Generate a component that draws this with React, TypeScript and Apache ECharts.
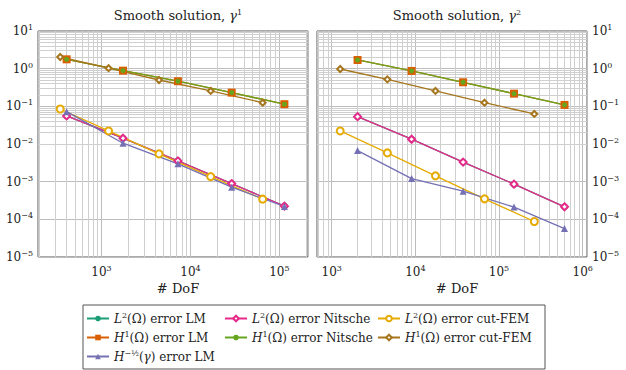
import React, { useEffect, useRef } from "react";
import * as echarts from "echarts";

// ---- Data ----
// gamma^1 panel
const g1DofLM = [405, 1745, 7230, 29100, 114000];
const g1DofCut = [343, 1200, 4430, 16900, 64900];
const g1L2LM = [0.0556, 0.01426, 0.00356, 0.00089, 0.000224];
const g1L2Nitsche = [0.0556, 0.01426, 0.00356, 0.00089, 0.000224];
const g1L2Cut = [0.085, 0.0222, 0.00546, 0.00136, 0.000343];
const g1H1LM = [1.77, 0.885, 0.464, 0.231, 0.114];
const g1H1Nitsche = [1.77, 0.885, 0.464, 0.231, 0.114];
const g1H1Cut = [2.04, 1.03, 0.5, 0.256, 0.125];
const g1HmLM = [0.0723, 0.0105, 0.00297, 0.000715, 0.000219];

// gamma^2 panel
const g2DofLM = [2040, 9020, 37200, 151000, 606000];
const g2DofCut = [1265, 4630, 17400, 67000, 264000];
const g2L2LM = [0.0533, 0.0134, 0.00331, 0.00086, 0.000215];
const g2L2Nitsche = [0.0533, 0.0134, 0.00331, 0.00086, 0.000215];
const g2L2Cut = [0.0222, 0.0058, 0.00143, 0.00035, 0.0000875];
const g2H1LM = [1.7, 0.87, 0.435, 0.217, 0.109];
const g2H1Nitsche = [1.7, 0.87, 0.435, 0.217, 0.109];
const g2H1Cut = [0.98, 0.52, 0.256, 0.125, 0.0628];
const g2HmLM = [0.00668, 0.00121, 0.00056, 0.000211, 0.000057];

const seriesNames = [
  "L2 error LM",
  "L2 error Nitsche",
  "L2 error cut-FEM",
  "H1 error LM",
  "H1 error Nitsche",
  "H1 error cut-FEM",
  "H-1/2 error LM",
];

const richLabels: Record<string, string> = {
  "L2 error LM": "{i|L}{sup|2}{t|(Ω) error LM}",
  "L2 error Nitsche": "{i|L}{sup|2}{t|(Ω) error Nitsche}",
  "L2 error cut-FEM": "{i|L}{sup|2}{t|(Ω) error cut-FEM}",
  "H1 error LM": "{i|H}{sup|1}{t|(Ω) error LM}",
  "H1 error Nitsche": "{i|H}{sup|1}{t|(Ω) error Nitsche}",
  "H1 error cut-FEM": "{i|H}{sup|1}{t|(Ω) error cut-FEM}",
  "H-1/2 error LM": "{i|H}{sup|−½}{t|(}{i|γ}{t|) error LM}",
};

const FONT = "DejaVu Serif";
const INK = "#222";

const mkRich = (fs: number) => ({
  t: { fontFamily: FONT, fontSize: fs, color: INK },
  i: { fontStyle: "italic", fontFamily: FONT, fontSize: fs, color: INK },
  sup: { fontSize: 8, fontFamily: FONT, color: INK, verticalAlign: "top", lineHeight: 15 },
});

function pow10Label(v: number) {
  const e = Math.round(Math.log10(v));
  const s = e < 0 ? "−" + Math.abs(e) : String(e);
  return "{b|10}{sup|" + s + "}";
}

function minorValues(eFrom: number, eTo: number, lo: number, hi: number) {
  const out: number[] = [];
  for (let e = eFrom; e <= eTo; e++) {
    for (let k = 2; k <= 9; k++) {
      const v = k * Math.pow(10, e);
      if (v > lo && v < hi) out.push(v);
    }
  }
  return out;
}

export default function App() {
  const ref = useRef<HTMLDivElement>(null);
  useEffect(() => {
    if (!ref.current) return;
    const chart = echarts.init(ref.current, undefined, { renderer: "svg" });

    const colors = ["#1b9e77", "#e7298a", "#e6ab02", "#d95f02", "#66a61e", "#a6761d", "#7570b3"];
    const symbols = ["circle", "emptyDiamond", "emptyCircle", "rect", "circle", "emptyDiamond", "triangle"];
    const sizes = [7, 7, 7, 8, 5, 6, 7];

    const panels = [
      {
        xs: [g1DofLM, g1DofLM, g1DofCut, g1DofLM, g1DofLM, g1DofCut, g1DofLM],
        ys: [g1L2LM, g1L2Nitsche, g1L2Cut, g1H1LM, g1H1Nitsche, g1H1Cut, g1HmLM],
        xmin: 193,
        xmax: 210000,
      },
      {
        xs: [g2DofLM, g2DofLM, g2DofCut, g2DofLM, g2DofLM, g2DofCut, g2DofLM],
        ys: [g2L2LM, g2L2Nitsche, g2L2Cut, g2H1LM, g2H1Nitsche, g2H1Cut, g2HmLM],
        xmin: 668,
        xmax: 1125000,
      },
    ];

    const series: any[] = [];
    panels.forEach((p, pi) => {
      const xm = minorValues(2, 6, p.xmin, p.xmax);
      const ym = minorValues(-5, 0, 1e-5, 10);
      series.push({
        type: "line",
        name: "grid" + pi,
        xAxisIndex: pi,
        yAxisIndex: pi,
        data: [],
        silent: true,
        z: 0,
        markLine: {
          z: 0,
          silent: true,
          symbol: ["none", "none"],
          label: { show: false },
          lineStyle: { color: "#cfcfcf", width: 1, type: "solid" },
          emphasis: { disabled: true },
          animation: false,
          data: [...xm.map((v) => ({ xAxis: v })), ...ym.map((v) => ({ yAxis: v }))],
        },
      });
      seriesNames.forEach((name, si) => {
        series.push({
          type: "line",
          name,
          xAxisIndex: pi,
          yAxisIndex: pi,
          data: p.xs[si].map((x, i) => [x, p.ys[si][i]]),
          symbol: symbols[si],
          symbolSize: sizes[si],
          showSymbol: true,
          z: 3,
          lineStyle: { color: colors[si], width: 1.3 },
          itemStyle: {
            color: colors[si],
            borderColor: colors[si],
            borderWidth: symbols[si].startsWith("empty") ? 1.4 : 0,
          },
          emphasis: { disabled: true },
        });
      });
    });

    const labelRich = {
      b: { fontSize: 12, fontFamily: FONT, color: INK },
      sup: { fontSize: 8, fontFamily: FONT, color: INK, verticalAlign: "top", lineHeight: 15 },
    };

    const xAxisCommon = (gi: number, min: number, max: number) => ({
      type: "log",
      logBase: 10,
      gridIndex: gi,
      min,
      max,
      axisLine: { show: false },
      axisTick: { show: false },
      axisLabel: {
        showMinLabel: false,
        showMaxLabel: false,
        margin: 7,
        fontFamily: FONT,
        fontSize: 12,
        color: INK,
        formatter: (v: number) => pow10Label(v),
        rich: labelRich,
      },
      splitLine: { show: true, lineStyle: { color: "#bdbdbd", width: 1 } },
    });

    const yAxisCommon = (gi: number, pos: string) => ({
      type: "log",
      logBase: 10,
      gridIndex: gi,
      min: 1e-5,
      max: 10,
      splitNumber: 6,
      position: pos,
      axisLine: { show: false },
      axisTick: { show: false },
      axisLabel: {
        margin: 5,
        fontFamily: FONT,
        fontSize: 12,
        color: INK,
        formatter: (v: number) => pow10Label(v),
        rich: labelRich,
      },
      splitLine: { show: true, lineStyle: { color: "#bdbdbd", width: 1 } },
    });

    const legendCommon = {
      orient: "horizontal",
      itemWidth: 22,
      itemHeight: 7,
      itemGap: 4,
      padding: 0,
      selectedMode: false,
      formatter: (name: string) => richLabels[name] || name,
      textStyle: { fontFamily: FONT, fontSize: 12, color: INK, rich: mkRich(12) },
    };

    const legendPos = [
      [86, 311],
      [224, 311],
      [377, 311],
      [86, 330],
      [224, 330],
      [377, 330],
      [86, 349],
    ];

    const titleStyle = { fontFamily: FONT, fontSize: 13, fontWeight: "normal", color: INK, rich: mkRich(13) };

    const option: any = {
      animation: false,
      backgroundColor: "#fff",
      textStyle: { fontFamily: FONT },
      title: [
        { text: "{t|Smooth solution, }{i|γ}{sup|1}", left: 173, top: 3, textAlign: "center", textStyle: titleStyle },
        { text: "{t|Smooth solution, }{i|γ}{sup|2}", left: 452, top: 3, textAlign: "center", textStyle: titleStyle },
        { text: "{t|# DoF}", left: 173, top: 277, textAlign: "center", textStyle: titleStyle },
        { text: "{t|# DoF}", left: 452, top: 277, textAlign: "center", textStyle: titleStyle },
      ],
      grid: [
        { left: 38, width: 270, top: 31, height: 226, show: true, borderColor: "#555", borderWidth: 1, backgroundColor: "transparent" },
        { left: 317, width: 270, top: 31, height: 226, show: true, borderColor: "#555", borderWidth: 1, backgroundColor: "transparent" },
      ],
      xAxis: [xAxisCommon(0, 193, 210000), xAxisCommon(1, 668, 1125000)],
      yAxis: [yAxisCommon(0, "left"), yAxisCommon(1, "right")],
      legend: seriesNames.map((name, i) => ({
        ...legendCommon,
        left: legendPos[i][0],
        top: legendPos[i][1],
        data: [name],
      })),
      graphic: [
        {
          type: "rect",
          shape: { x: 83, y: 305, width: 462, height: 64 },
          style: { fill: "none", stroke: "#555", lineWidth: 1 },
          silent: true,
        },
      ],
      series,
    };

    chart.setOption(option);
    return () => chart.dispose();
  }, []);

  return (
    <div
      ref={ref}
      style={{ position: "fixed", left: 0, top: 0, width: 626, height: 370 }}
    />
  );
}
